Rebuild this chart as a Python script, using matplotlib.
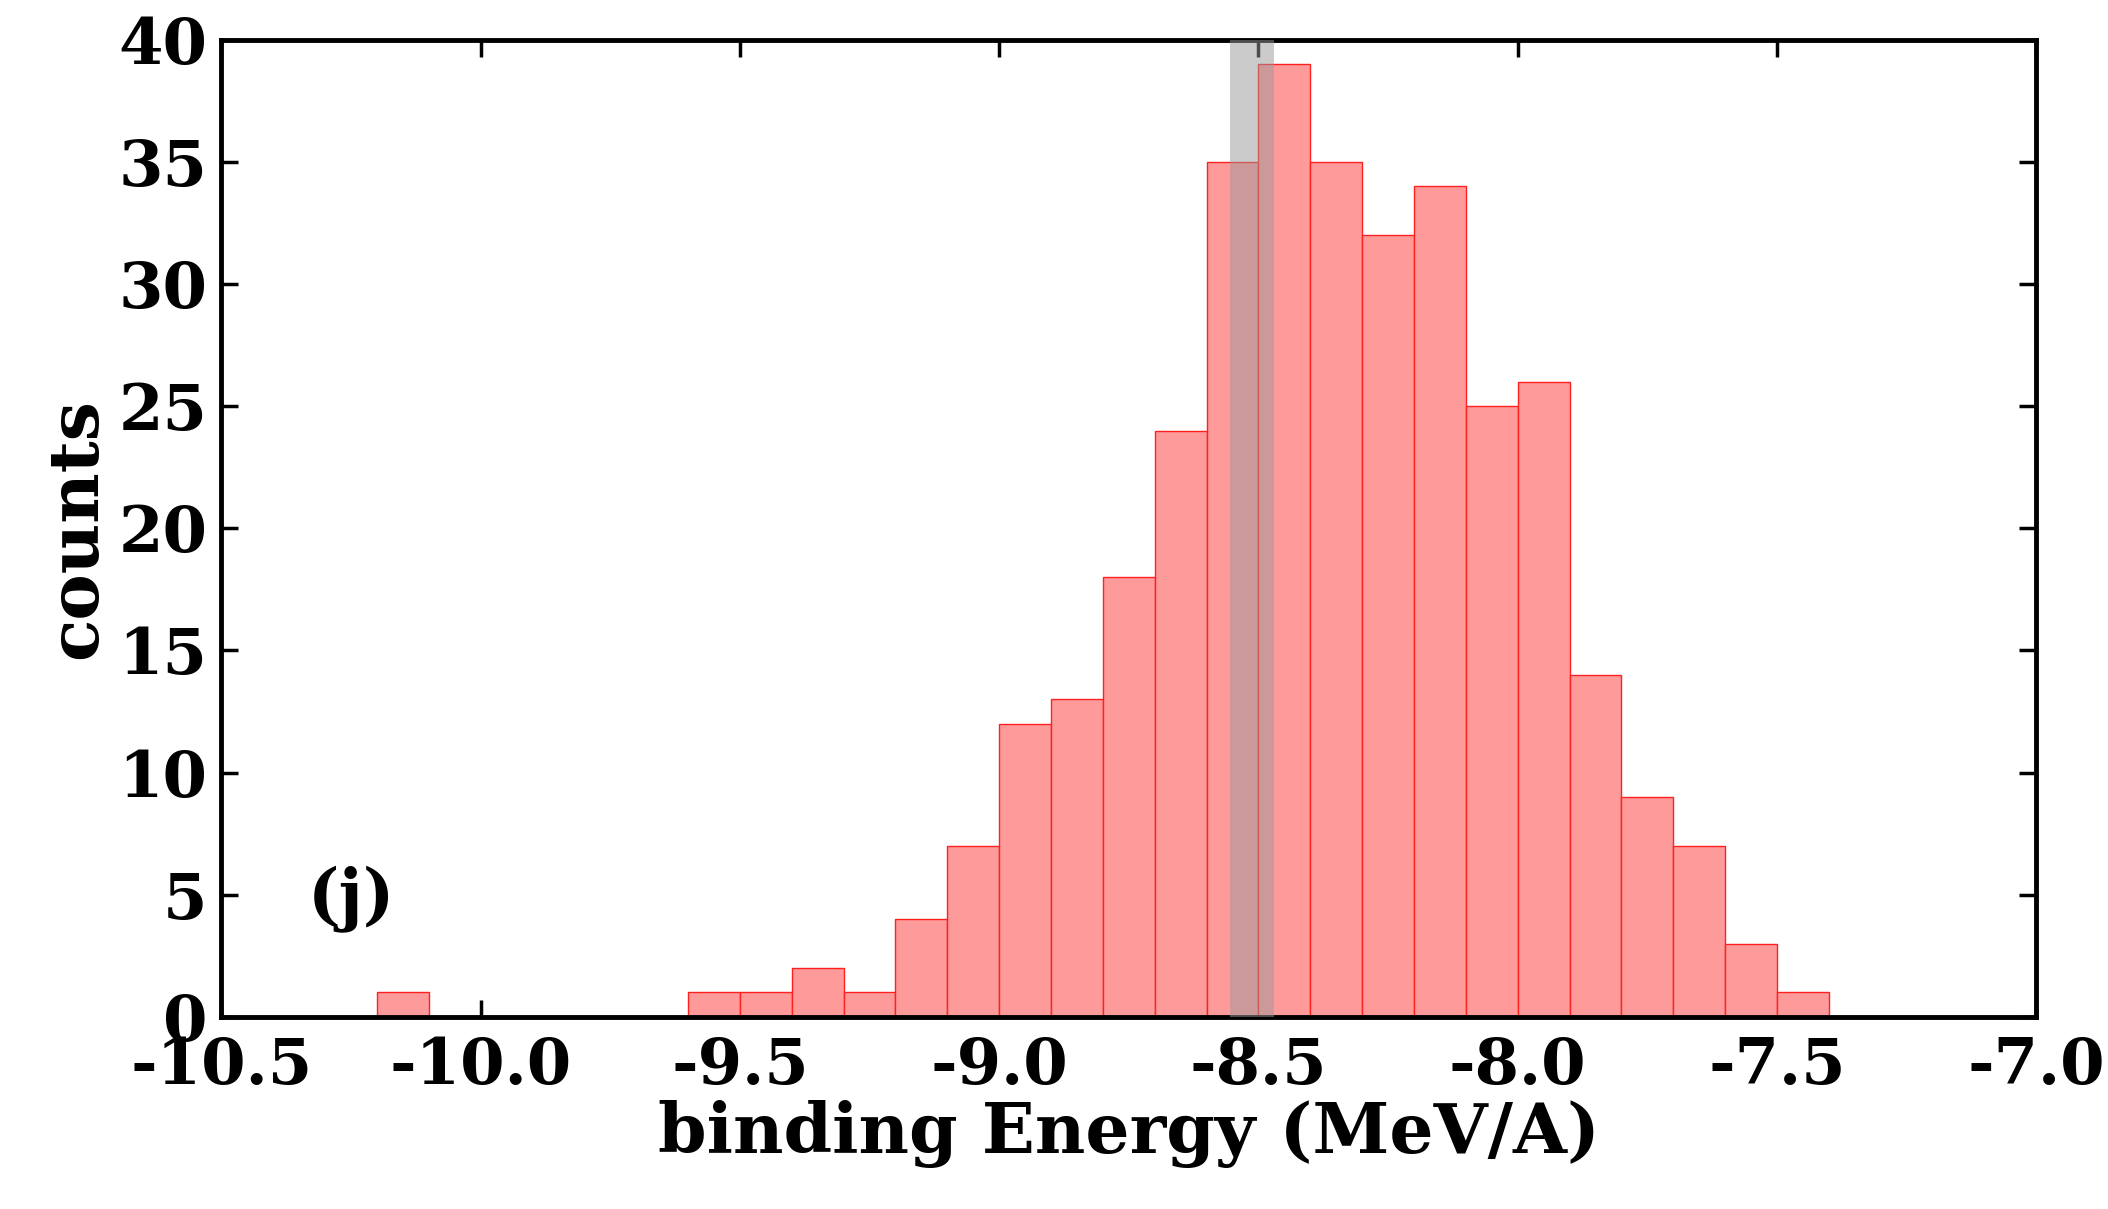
import numpy as np
import matplotlib.pyplot as plt

bin_left = [-10.2, -9.6, -9.5, -9.4, -9.3, -9.2, -9.1, -9.0, -8.9, -8.8, -8.7,
            -8.6, -8.5, -8.4, -8.3, -8.2, -8.1, -8.0, -7.9, -7.8, -7.7, -7.6, -7.5]
counts = [1, 1, 1, 2, 1, 4, 7, 12, 13, 18, 24,
          35, 39, 35, 32, 34, 25, 26, 14, 9, 7, 3, 1]
band = (-8.555, -8.47)

plt.rcParams['font.family'] = 'DejaVu Serif'
plt.rcParams['font.weight'] = 'bold'

fig = plt.figure(figsize=(21.08, 12.09), dpi=100)
ax = fig.add_axes([0.105, 0.159, 0.861, 0.808])

ax.bar(bin_left, counts, width=0.1, align='edge', color='#ff9a9a',
       edgecolor='#ff2020', linewidth=1, zorder=2)
ax.axvspan(band[0], band[1], color='#999999', alpha=0.5, lw=0, zorder=3)

ax.set_xlim(-10.5, -7.0)
ax.set_ylim(0, 40)
ax.set_xticks(np.arange(-10.5, -6.99, 0.5))
ax.set_xticklabels(['%.1f' % v for v in np.arange(-10.5, -6.99, 0.5)])
ax.set_yticks(range(0, 41, 5))
ax.tick_params(direction='in', length=12, width=2.5, labelsize=46,
               top=True, right=True)
ax.tick_params(axis='x', pad=14)
ax.tick_params(axis='y', pad=10)
for s in ax.spines.values():
    s.set_linewidth(3.5)

ax.set_xlabel('binding Energy (MeV/A)', fontsize=50, fontweight='bold', labelpad=2)
ax.set_ylabel('counts', fontsize=50, fontweight='bold', labelpad=6)
ax.text(-10.25, 4.8, '(j)', fontsize=48, fontweight='bold', ha='center', va='center')

fig.savefig('out.png', dpi=100)
